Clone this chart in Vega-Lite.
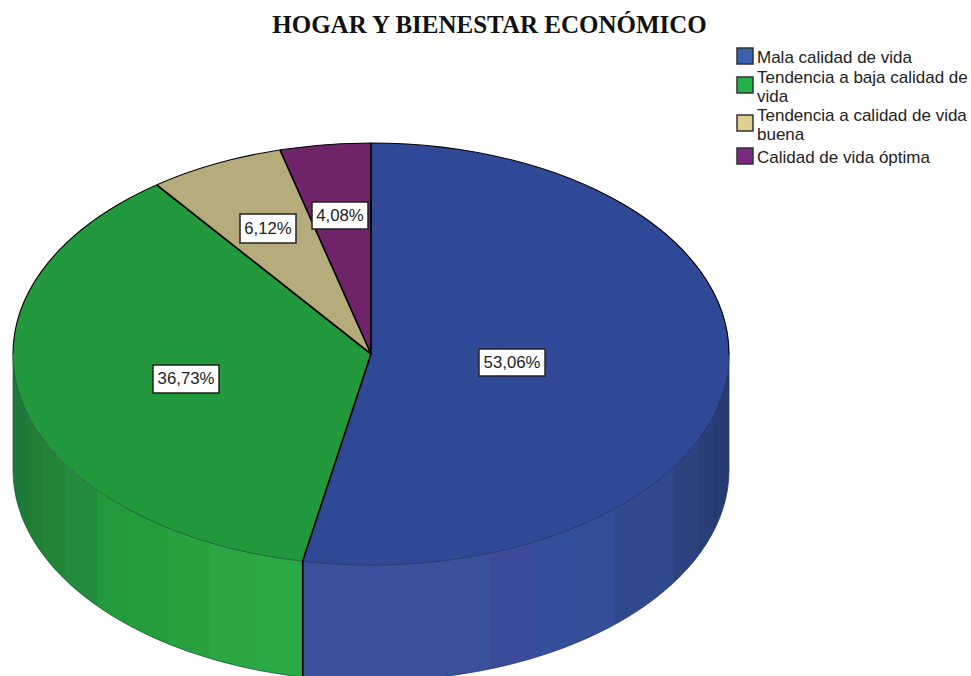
{
"$schema":"https://vega.github.io/schema/vega-lite/v6.json",
"width":971,"height":676,"padding":0,"autosize":{"type":"none"},
"background":"white",
"config":{"view":{"stroke":null}},
"title":{"text":"HOGAR Y BIENESTAR ECONÓMICO","font":"Liberation Serif","fontSize":25,"fontWeight":"bold","color":"#111111","anchor":"middle","frame":"group","dx":4,"offset":-38},
"data":{"values":[
{"categoria":"Mala calidad de vida","porcentaje":53.06,"etiqueta":"53,06%","cx":0,"cy":0,"bx0":108,"bx1":174,"by0":5,"by1":-22,"tx":141,"ty":-8.5},
{"categoria":"Tendencia a baja calidad de vida","porcentaje":36.73,"etiqueta":"36,73%","cx":0,"cy":0,"bx0":-218,"bx1":-152,"by0":-11,"by1":-39,"tx":-185,"ty":-25},
{"categoria":"Tendencia a calidad de vida buena","porcentaje":6.12,"etiqueta":"6,12%","cx":0,"cy":0,"bx0":-131,"bx1":-75,"by0":140,"by1":111,"tx":-103,"ty":125.5},
{"categoria":"Calidad de vida óptima","porcentaje":4.08,"etiqueta":"4,08%","cx":0,"cy":0,"bx0":-59,"bx1":-3,"by0":152,"by1":125,"tx":-31,"ty":138.5}
]},
"encoding":{
"x":{"field":"cx","type":"quantitative","scale":{"domain":[-371,600]},"axis":null},
"y":{"field":"cy","type":"quantitative","scale":{"domain":[-322,354]},"axis":null}
},
"layer":[
{"mark":{"type":"point","filled":true,"size":0,"opacity":1},
 "encoding":{"color":{"field":"categoria","type":"nominal",
  "scale":{"domain":["Mala calidad de vida","Tendencia a baja calidad de vida","Tendencia a calidad de vida buena","Calidad de vida óptima"],"range":["#3a60ae","#22b14c","#dcd08e","#7b2a80"]},
  "legend":{"title":null,"orient":"none","legendX":736,"legendY":47,"padding":0,"symbolType":"square","symbolSize":256,"symbolStrokeColor":"#333333","symbolStrokeWidth":1.5,"symbolOpacity":1,"labelFont":"Liberation Sans","labelFontSize":17,"labelColor":"#222222","labelLimit":300,"labelOffset":3,"labelLineHeight":17.5,"rowPadding":2,
  "labelExpr":"datum.label=='Tendencia a baja calidad de vida'?['Tendencia a baja calidad de','vida']:datum.label=='Tendencia a calidad de vida buena'?['Tendencia a calidad de vida','buena']:datum.label",
  "encoding":{"labels":{"dy":{"condition":{"test":"indexof(datum.value,'Tendencia')==0","value":-7},"value":2}}}}}}},
{"transform":[{"filter":"datum.categoria=='Mala calidad de vida'"}],
 "mark":{"type":"point","filled":true,"opacity":1,"size":4,"shape":"M358,0 L358,116 A358,211 0 0 1 -68.3,323.1 L-68.3,207.1 A358,211 0 0 0 358,0 Z","stroke":"#1c2c5c","strokeWidth":0.7,
 "fill":{"gradient":"linear","x1":0,"x2":1,"y1":0,"y2":0,"stops":[
 {"offset":0,"color":"#3a529b"},{"offset":0.439,"color":"#3a529b"},{"offset":0.439,"color":"#3c4c9b"},{"offset":0.54,"color":"#3c4c9b"},{"offset":0.54,"color":"#34509b"},{"offset":0.639,"color":"#34509b"},{"offset":0.639,"color":"#344e97"},{"offset":0.733,"color":"#344e97"},{"offset":0.733,"color":"#30498c"},{"offset":0.869,"color":"#30498c"},{"offset":0.869,"color":"#2c437f"},{"offset":0.927,"color":"#2c437f"},{"offset":0.927,"color":"#2a3f79"},{"offset":0.962,"color":"#2a3f79"},{"offset":0.962,"color":"#273a72"},{"offset":1,"color":"#273a72"}]}}},
{"transform":[{"filter":"datum.categoria=='Tendencia a baja calidad de vida'"}],
 "mark":{"type":"point","filled":true,"opacity":1,"size":4,"shape":"M-68.3,207.1 L-68.3,323.1 A358,211 0 0 1 -358,116 L-358,0 A358,211 0 0 0 -68.3,207.1 Z","stroke":"#14512a","strokeWidth":0.7,
 "fill":{"gradient":"linear","x1":0,"x2":1,"y1":0,"y2":0,"stops":[
 {"offset":0,"color":"#1d7a38"},{"offset":0.048,"color":"#1d7a38"},{"offset":0.048,"color":"#217f33"},{"offset":0.104,"color":"#217f33"},{"offset":0.104,"color":"#228435"},{"offset":0.18,"color":"#228435"},{"offset":0.18,"color":"#218a3b"},{"offset":0.29,"color":"#218a3b"},{"offset":0.29,"color":"#239a3c"},{"offset":0.404,"color":"#239a3c"},{"offset":0.404,"color":"#249d3c"},{"offset":0.535,"color":"#249d3c"},{"offset":0.535,"color":"#29a33f"},{"offset":0.68,"color":"#29a33f"},{"offset":0.68,"color":"#2aa643"},{"offset":0.835,"color":"#2aa643"},{"offset":0.835,"color":"#2aaa45"},{"offset":1,"color":"#2aaa45"}]}}},
{"transform":[{"filter":"datum.categoria=='Mala calidad de vida'"}],
 "mark":{"type":"point","filled":true,"opacity":1,"size":4,"shape":"M0,0 L0,-211 A358,211 0 1 1 -68.3,207.1 Z","fill":"#304996","stroke":null}},
{"transform":[{"filter":"datum.categoria=='Tendencia a baja calidad de vida'"}],
 "mark":{"type":"point","filled":true,"opacity":1,"size":4,"shape":"M0,0 L-68.3,207.1 A358,211 0 0 1 -214.2,-169 Z","fill":"#22993c","stroke":null}},
{"transform":[{"filter":"datum.categoria=='Tendencia a calidad de vida buena'"}],
 "mark":{"type":"point","filled":true,"opacity":1,"size":4,"shape":"M0,0 L-214.2,-169 A358,211 0 0 1 -91,-204 Z","fill":"#b5ab7b","stroke":null}},
{"transform":[{"filter":"datum.categoria=='Calidad de vida óptima'"}],
 "mark":{"type":"point","filled":true,"opacity":1,"size":4,"shape":"M0,0 L-91,-204 A358,211 0 0 1 0,-211 Z","fill":"#6f2469","stroke":null}},
{"data":{"values":[{"cx":0,"cy":0}]},
 "mark":{"type":"point","filled":false,"fill":"transparent","opacity":0.45,"size":4,"shape":"M358,0 A358,211 0 0 1 -358,0","stroke":"#101a30","strokeWidth":0.7}},
{"data":{"values":[{"cx":0,"cy":0}]},
 "mark":{"type":"point","filled":false,"fill":"transparent","opacity":1,"size":4,"shape":"M-358,0 A358,211 0 0 1 358,0","stroke":"#000000","strokeWidth":1.1}},
{"data":{"values":[{"cx":0,"cy":0}]},
 "mark":{"type":"point","filled":false,"fill":"transparent","opacity":1,"size":4,"shape":"M-68.3,323.1 L-68.3,207.1 L0,0 L0,-211 M0,0 L-214.2,-169 M0,0 L-91,-204","stroke":"#000000","strokeWidth":1.7}},
{"mark":{"type":"rect","fill":"white","stroke":"#222222","strokeWidth":1.5},
 "encoding":{"x":{"field":"bx0","type":"quantitative"},"x2":{"field":"bx1"},"y":{"field":"by0","type":"quantitative"},"y2":{"field":"by1"}}},
{"mark":{"type":"text","font":"Liberation Sans","fontSize":16.8,"color":"#222222","align":"center","baseline":"middle"},
 "encoding":{"x":{"field":"tx","type":"quantitative"},"y":{"field":"ty","type":"quantitative"},"text":{"field":"etiqueta"}}}
]
}
